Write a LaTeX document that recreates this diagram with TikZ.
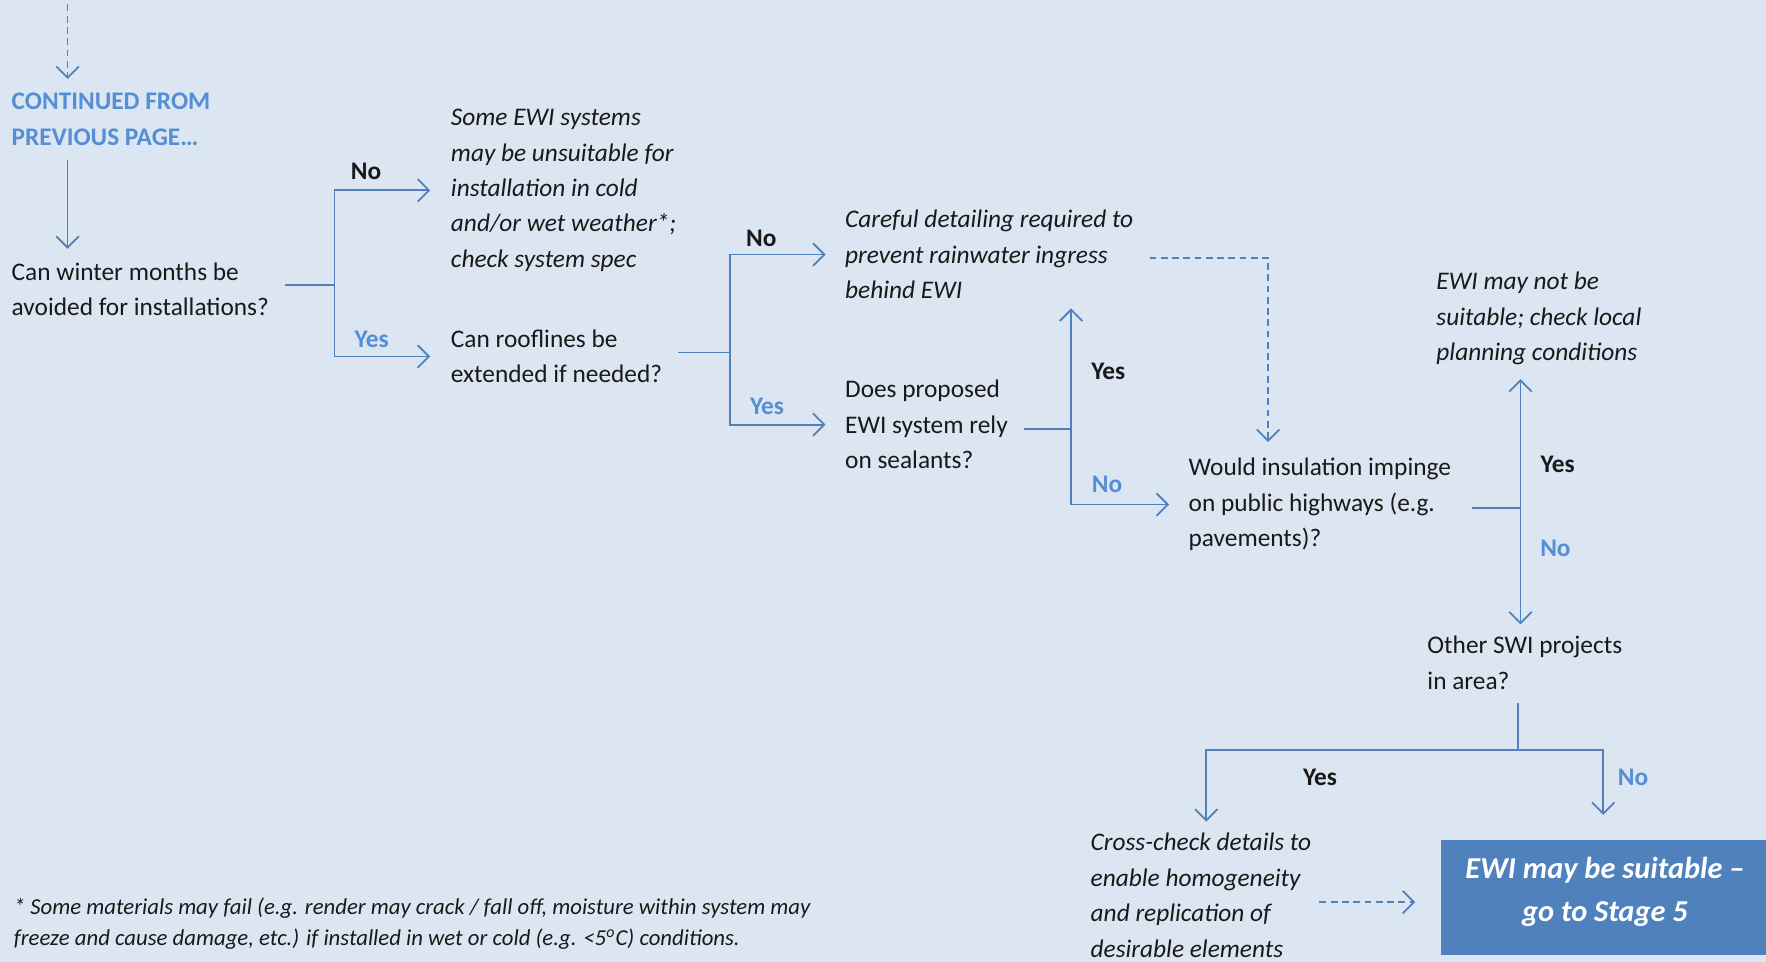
\documentclass[tikz,border=0pt]{standalone}
\usepackage{fontspec}
\setmainfont{Carlito}
\usetikzlibrary{arrows.meta}
\definecolor{bgc}{HTML}{DCE6F2}
\definecolor{ewiblue}{HTML}{4F81BD}
\definecolor{lblblue}{HTML}{558ED5}
\begin{document}
\begin{tikzpicture}[x=0.5pt,y=-0.5pt,
  txt/.style={anchor=west, inner sep=0pt, align=left, text=black!90, font=\fontsize{11.25}{15.75}\selectfont},
  itxt/.style={txt, font=\fontsize{11.25}{15.75}\selectfont\itshape},
  lbk/.style={inner sep=0pt, text=black!90, font=\fontsize{11.25}{13}\selectfont\bfseries},
  lbb/.style={lbk, text=lblblue},
  ln/.style={draw=ewiblue, line width=0.8pt},
  arr/.style={ln, -{Straight Barb[length=5pt,width=10pt,line width=0.8pt]}},
  dsh/.style={arr, dash pattern=on 3pt off 2pt},
  finalbox/.style={fill=ewiblue, inner sep=0pt, minimum width=144.5pt, minimum height=51pt},
  fintext/.style={inner sep=0pt, align=center, text=white, font=\fontsize{13.5}{19}\selectfont\bfseries\itshape}
]
\useasboundingbox (0,0) rectangle (1568,854);
\fill[bgc] (0,0) rectangle (1568,854);

% nodes
\node[txt, text=lblblue, font=\fontsize{11.25}{16}\selectfont\bfseries] (cont) at (10,106) {CONTINUED FROM\\PREVIOUS PAGE…};
\node[txt] (q1) at (10,257) {Can winter months be\\avoided for installations?};
\node[itxt] (n1) at (400,169) {Some EWI systems\\may be unsuitable for\\installation in cold\\and/or wet weather*;\\check system spec};
\node[txt] (q2) at (400,316.5) {Can rooflines be\\extended if needed?};
\node[itxt] (n2) at (750,226) {Careful detailing required to\\prevent rainwater ingress\\behind EWI};
\node[txt] (q3) at (750,377) {Does proposed\\EWI system rely\\on sealants?};
\node[txt] (q4) at (1055,448) {Would insulation impinge\\on public highways (e.g.\\pavements)?};
\node[itxt] (n3) at (1275,283) {EWI may not be\\suitable; check local\\planning conditions};
\node[txt] (q5) at (1267,588.5) {Other SWI projects\\in area?};
\node[itxt] (n4) at (968,795) {Cross-check details to\\enable homogeneity\\and replication of\\desirable elements};
\node[finalbox] (fin) at (1423.5,797) {};
\node[fintext] (fint) at (1425,792) {EWI may be suitable –\\go to Stage 5};
\node[txt, font=\fontsize{10.1}{14}\selectfont\itshape] (foot) at (12,820) {* Some materials may fail (e.g. render may crack / fall off, moisture within system may\\freeze and cause damage, etc.) if installed in wet or cold (e.g. <5\textsuperscript{o}C) conditions.};

% branch coordinates
\coordinate (top) at (60,4);
\coordinate (b1) at (297,253);
\coordinate (b2) at (648,313);
\coordinate (b3) at (951,381);
\coordinate (b4) at (1350,451);
\coordinate (b5) at (1348,666);
\coordinate (d1) at (1126,229);
\coordinate (c1) at (1071,666);

% connectors
\draw[dsh, shorten >=6pt] (top) -- (top |- cont.north);
\draw[arr, shorten <=6pt, shorten >=6pt] (top |- cont.south) -- (top |- q1.north);

\draw[ln, shorten <=7pt] (q1.east |- b1) -- (b1);
\draw[arr, shorten >=9pt] (b1) |- (n1.west);
\draw[arr, shorten >=9pt] (b1) |- (q2.west);

\draw[ln, shorten <=7pt] (q2.east |- b2) -- (b2);
\draw[arr, shorten >=8.5pt] (b2) |- (n2.west);
\draw[arr, shorten >=8.5pt] (b2) |- (q3.west);

\draw[dsh, shorten <=7pt, shorten >=7pt] (n2.east |- d1) -| (d1 |- q4.north);

\draw[ln, shorten <=7pt] (q3.east |- b3) -- (b3);
\draw[arr, shorten >=4pt] (b3) -- (b3 |- n2.south);
\draw[arr, shorten >=8.5pt] (b3) |- (q4.west);

\draw[ln, shorten <=9pt] (q4.east |- b4) -- (b4);
\draw[arr, shorten >=6pt] (b4) -- (b4 |- n3.south);
\draw[arr, shorten >=5pt] (b4) -- (b4 |- q5.north);

\draw[ln, shorten <=6pt] (b5 |- q5.south) -- (b5);
\draw[arr, shorten >=5pt] (b5) -| (c1 |- n4.north);
\draw[arr, shorten >=11pt] (b5) -| (fin.north);

\draw[dsh, shorten <=3.5pt, shorten >=11pt] ([yshift=-2pt]n4.east |- fin.west) -- ([yshift=-2pt]fin.west);

% labels
\node[lbk] (l1) at (325,152) {No};
\node[lbb] (l2) at (330,301) {Yes};
\node[lbk] (l3) at (676,212) {No};
\node[lbb] (l4) at (681,361) {Yes};
\node[lbk] (l5) at (984,330) {Yes};
\node[lbb] (l6) at (983,430) {No};
\node[lbk] (l7) at (1383,412) {Yes};
\node[lbb] (l8) at (1381,487) {No};
\node[lbk] (l9) at (1172,690) {Yes};
\node[lbb] (l10) at (1450,690) {No};
\end{tikzpicture}
\end{document}
